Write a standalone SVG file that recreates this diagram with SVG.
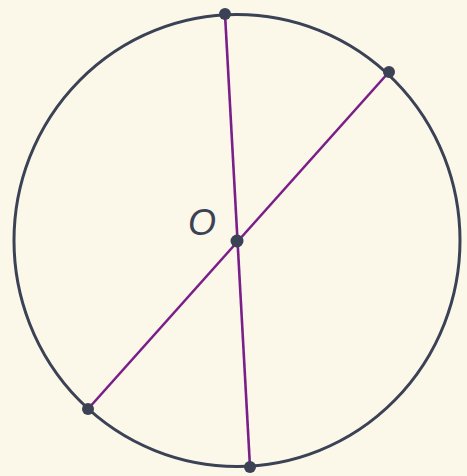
<svg xmlns="http://www.w3.org/2000/svg" width="467" height="476" viewBox="0 0 467 476">
<style>
.dot{fill:#3b4255}
.chord{stroke:#7a1f8a;stroke-width:2.6;fill:none}
</style>
<rect width="467" height="476" fill="#fcf8e9"/>
<g id="circle"><ellipse cx="237" cy="240.5" rx="223" ry="226" fill="none" stroke="#3b4255" stroke-width="3"/></g>
<g id="connectors">
<line class="chord" x1="225" y1="14" x2="250" y2="467"/>
<line class="chord" x1="389" y1="72" x2="88" y2="409"/>
</g>
<g id="top"><circle class="dot" cx="225" cy="14" r="6"/></g>
<g id="right"><circle class="dot" cx="389" cy="72" r="6"/></g>
<g id="left"><circle class="dot" cx="88" cy="409" r="6"/></g>
<g id="bottom"><circle class="dot" cx="250" cy="467" r="6"/></g>
<g id="center"><circle class="dot" cx="237" cy="241" r="6.5"/>
<text x="202" y="235" font-family="Liberation Sans, Arial, sans-serif" font-style="italic" font-size="36" fill="#3b4255" text-anchor="middle">O</text></g>
</svg>
